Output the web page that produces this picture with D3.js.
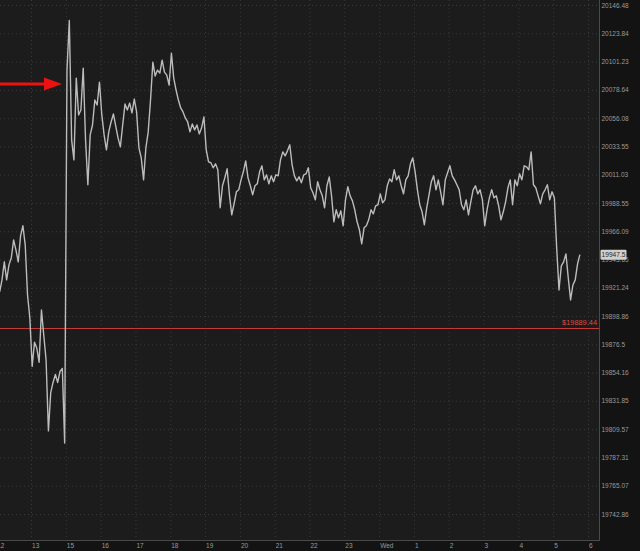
<!DOCTYPE html>
<html><head><meta charset="utf-8">
<script src="https://cdn.jsdelivr.net/npm/d3@7"></script>
<style>html,body{margin:0;padding:0;background:#131313;overflow:hidden}</style>
</head><body><svg id="c" width="640" height="551"></svg>
<script>
// ---------- data ----------
const yTicks = [20146.48,20123.84,20101.23,20078.64,20056.08,20033.55,20011.03,19988.55,19966.09,19943.65,19921.24,19898.86,19876.5,19854.16,19831.85,19809.57,19787.31,19765.07,19742.86];
const xTickLabels = ["12","13","15","16","17","18","19","20","21","22","23","Wed","1","2","3","4","5","6"];
const startMinute = 6;   // minutes after the first ("12") slot
const stepMinutes = 4;
const prices = [
19917.9,19927.5,19941.8,19927.5,19939.4,19944.9,19959.2,19951.3,19941.8,19962.4,
19970.4,19955.3,19915.5,19897.3,19859.1,19878.2,19873.4,19862.3,19903.6,19883.7,
19863.9,19808.2,19838.4,19846.4,19852.7,19846.4,19855.1,19857.5,19798.7,20094.4,
20134.1,20038.7,20022.8,20088.0,20058.6,20062.6,20096.0,20038.7,20003.0,20042.7,
20050.6,20070.5,20066.5,20084.8,20058.6,20042.7,20030.8,20045.1,20053.0,20059.4,
20049.9,20040.3,20033.2,20050.6,20067.3,20062.6,20068.1,20060.2,20071.3,20061.0,
20032.4,20024.4,20006.9,20032.4,20045.1,20070.5,20100.7,20089.6,20094.4,20092.0,
20102.3,20092.8,20090.4,20082.4,20107.9,20088.0,20078.5,20070.5,20064.2,20061.0,
20056.2,20053.0,20045.1,20051.4,20046.7,20050.6,20043.5,20048.3,20057.0,20030.8,
20021.2,20020.5,20016.5,20019.7,20014.9,19984.7,20002.2,20008.5,20015.7,19995.0,
19979.1,19987.9,19997.4,19999.0,20006.9,20013.3,20022.0,20008.5,20002.2,19995.0,
20002.2,20003.8,20013.3,20018.1,20006.9,20010.9,20003.8,20010.1,20005.4,20010.9,
20010.1,20022.8,20029.2,20026.0,20030.0,20034.8,20018.9,20010.1,20006.1,20009.3,
20004.6,20010.9,20011.7,20016.5,20000.6,19996.6,19991.0,20005.4,19999.0,19994.2,
19984.7,20002.2,20009.3,19994.2,19973.6,19983.1,19976.7,19982.3,19970.4,19991.0,
20001.4,19994.2,19990.2,19983.1,19973.6,19967.2,19956.1,19968.8,19970.4,19975.1,
19983.1,19979.9,19986.3,19987.1,19995.8,19988.7,19991.0,20002.2,20007.7,20005.4,
20014.9,20006.9,20010.1,20002.2,19995.8,20006.9,20010.1,20019.7,20024.4,20013.3,
19999.0,19987.1,19981.5,19971.2,19984.7,19995.0,20005.4,20010.1,19999.0,20006.9,
19997.4,19987.1,20006.9,20012.5,20018.1,20010.1,20006.9,20003.0,19999.0,19987.1,
19983.1,19991.0,19979.1,19989.4,19999.0,20002.2,19995.8,19999.0,19991.0,19970.4,
19983.1,19992.6,19999.0,19992.6,19994.2,19986.3,19975.1,19981.5,19989.4,20000.6,
20006.9,19987.1,20006.9,20002.2,20011.7,20006.9,20018.1,20017.3,20014.9,20029.2,
20003.0,20000.6,19994.2,19987.9,19995.8,19999.0,20003.0,19991.0,19997.4,19992.6,
19952.9,19919.5,19938.6,19941.8,19948.1,19929.0,19911.6,19923.5,19927.5,19940.2,
19947.5];
const refLevel = 19889.44;
const lastPrice = 19947.5;

// ---------- layout ----------
const W = 640, H = 551, PW = 599, PH = 540;
const svg = d3.select("#c");
const x = d3.scaleLinear().domain([0, 17]).range([-3.8, 588]);
const y = d3.scaleLog().domain([19722.45, 20150.49]).range([PH, 0]);
const FONT = "'Liberation Sans', Arial, sans-serif";

svg.append("rect").attr("width", W).attr("height", H).attr("fill", "#131313");
svg.append("rect").attr("width", PW).attr("height", PH).attr("fill", "#1c1c1c");

// grid
const gy = svg.append("g").call(d3.axisRight(y).tickValues(yTicks).tickSize(PW).tickFormat(""));
gy.select(".domain").remove();
gy.selectAll("line").attr("stroke", "#3a3a3a").attr("stroke-dasharray", "1,3");
const gx = svg.append("g").call(d3.axisBottom(x).tickValues(d3.range(18)).tickSize(PH).tickFormat(""));
gx.select(".domain").remove();
gx.selectAll("line").attr("stroke", "#3a3a3a").attr("stroke-dasharray", "1,3");

// clip
svg.append("clipPath").attr("id", "clip").append("rect").attr("width", PW).attr("height", PH);

// reference line
svg.append("line").attr("x1", 0).attr("x2", PW).attr("y1", Math.round(y(refLevel)) + 0.5).attr("y2", Math.round(y(refLevel)) + 0.5)
  .attr("stroke", "#c43a36").attr("stroke-width", 1);

// series
const line = d3.line()
  .x((d, i) => x((startMinute + i * stepMinutes) / 60))
  .y(d => y(d));
svg.append("path").datum(prices).attr("clip-path", "url(#clip)")
  .attr("d", line).attr("fill", "none").attr("stroke", "#bcbcbc").attr("stroke-width", 1.4)
  .attr("stroke-linejoin", "round");

// reference label
svg.append("text").attr("x", 597).attr("y", y(refLevel) - 3).attr("text-anchor", "end")
  .attr("font-family", FONT).attr("font-size", 7.4).attr("fill", "#dd4a44")
  .text("$" + refLevel.toFixed(2));

// borders
svg.append("line").attr("x1", PW + 0.5).attr("x2", PW + 0.5).attr("y1", 0).attr("y2", PH + 1).attr("stroke", "#4a4a4a");
svg.append("line").attr("x1", 0).attr("x2", PW + 1).attr("y1", PH + 0.5).attr("y2", PH + 0.5).attr("stroke", "#4a4a4a");

// y axis labels
const ya = svg.append("g").attr("transform", `translate(${PW},0)`)
  .call(d3.axisRight(y).tickValues(yTicks).tickSize(0).tickPadding(2.5).tickFormat(d => String(d)));
ya.select(".domain").remove();
ya.selectAll("text").attr("font-family", FONT).attr("font-size", 6.5).attr("fill", "#9a9a9a");

// x axis labels
const xa = svg.append("g").attr("transform", `translate(0,${PH})`)
  .call(d3.axisBottom(x).tickValues(d3.range(18)).tickSize(0).tickPadding(3).tickFormat(i => xTickLabels[i]));
xa.select(".domain").remove();
xa.selectAll("text").attr("font-family", FONT).attr("font-size", 6.5).attr("fill", "#9a9a9a")
  .attr("text-anchor", "start").attr("dx", 0.5);

// last price box
const ly = y(lastPrice);
svg.append("rect").attr("x", 600.5).attr("y", ly - 5).attr("width", 26).attr("height", 10)
  .attr("fill", "#cfcfcf").attr("rx", 1);
svg.append("text").attr("x", 613.5).attr("y", ly).attr("dy", "0.35em").attr("text-anchor", "middle")
  .attr("font-family", FONT).attr("font-size", 6.6).attr("fill", "#2a2a2a").text(String(lastPrice));

// annotation arrow
const ay = 84;
svg.append("line").attr("x1", 0).attr("x2", 46).attr("y1", ay).attr("y2", ay)
  .attr("stroke", "#ee1111").attr("stroke-width", 3);
svg.append("path").attr("d", `M44,${ay - 6.5} L62,${ay} L44,${ay + 6.5} Z`).attr("fill", "#ee1111");
</script></body></html>
